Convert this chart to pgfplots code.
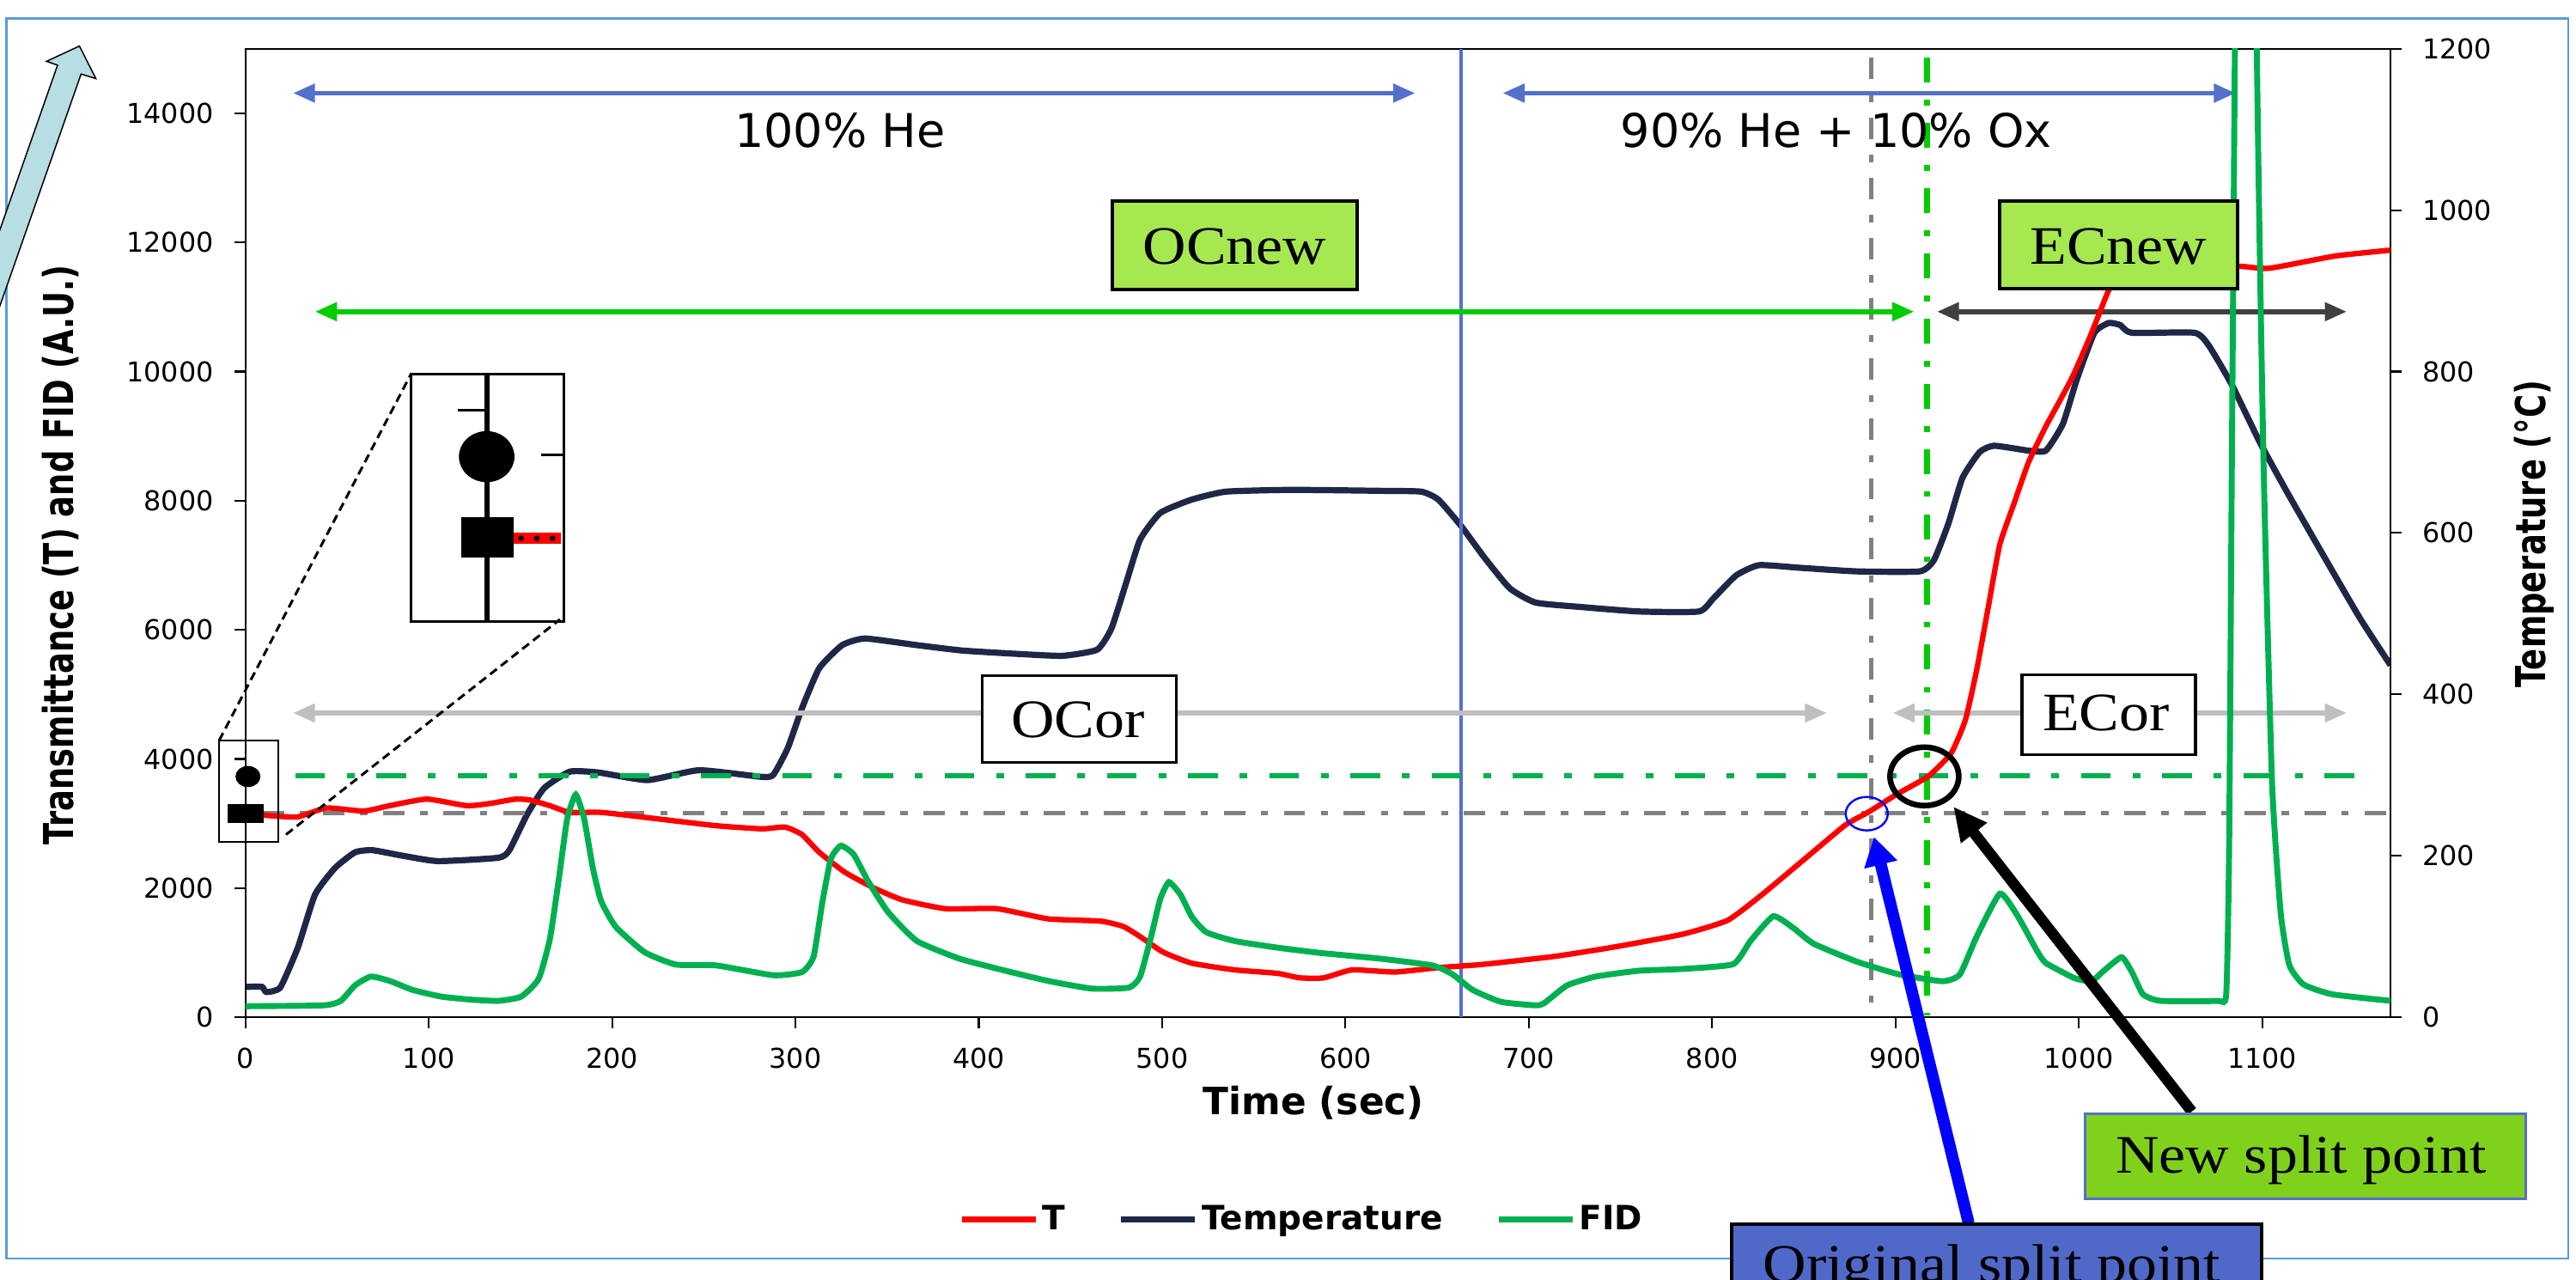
\documentclass[border=0pt]{standalone}
\usepackage{fontspec}
\setmainfont{DejaVu Sans}
\newfontfamily\tnr{Liberation Serif}
\usepackage{pgfplots}
\pgfplotsset{compat=1.18}
\usetikzlibrary{arrows.meta}
\definecolor{navyc}{HTML}{1E2846}
\definecolor{fidg}{HTML}{00B050}
\definecolor{limeg}{HTML}{00CC00}
\definecolor{arrblue}{HTML}{5470CC}
\definecolor{ltgray}{HTML}{BFBFBF}
\definecolor{dkgray}{HTML}{404040}
\definecolor{dgray}{HTML}{808080}
\definecolor{boxg}{HTML}{A6E84F}
\definecolor{boxgg}{HTML}{80D11C}
\definecolor{boxb}{HTML}{5068C8}
\definecolor{brd}{HTML}{5B9BD5}
\definecolor{cyanarr}{HTML}{B7DEE2}
\pgfplotsset{
  myframe/.style={
    scale only axis, width=832.43pt, height=375.8pt,
    xmin=0, xmax=1170,
    tick align=outside, major tick length=4.3pt,
    tick style={black, line width=0.7pt},
    axis line style={black, line width=0.7pt},
    scaled ticks=false,
    /pgf/number format/1000 sep={},
    /pgf/number format/assume math mode=true,
    tick label style={font=\fontsize{10.6}{12}\selectfont},
  }
}
\begin{document}
\begin{tikzpicture}
\useasboundingbox (-95.233pt,-101.633pt) rectangle (904.433pt,394.7pt);

% ---------- right axis : Temperature ----------
\begin{axis}[myframe,
  ymin=0, ymax=1200,
  axis x line=none, axis y line*=right,
  ytick={0,200,...,1200},
  yticklabel style={xshift=4.5pt},
  every axis y label/.style={at={(axis description cs:1.0669,0.499)}, rotate=90, anchor=center},
  ylabel={\scalebox{1}[1.3]{\bfseries\fontsize{12.3}{14}\selectfont Temperature (°C)}},
]
\addplot[navyc, line width=2.4pt, smooth, tension=0.3] coordinates {
(0,37.6) (9,37.6) (11.4,31.2) (19,36.8) (28.6,86.2) (38,152) (48.9,185) (59.8,204.3) (69.2,207) (84.8,200.5) (105,193.4) (138,197.6) (144,207) (153.6,251) (163,284) (177,304.3) (192.6,303.2) (219.3,293.8) (247.4,306) (281.8,297.8) (288,300.5) (295.8,333.4) (303.6,383) (313,432.4) (325.5,461) (338,469.2) (366.3,461) (391.1,454.3) (422.4,450) (445.8,447.8) (464.6,455.4) (472.4,481.8) (480.2,536.8) (488,591.8) (499,624.8) (516.1,641.3) (534.9,651.2) (570.8,653.4) (619.3,652.2) (641.3,651.2) (650.7,641.3) (663.2,608.3) (675.7,569.8) (689.7,531.3) (703.8,513.7) (728.8,508.2) (760.1,502.7) (792.8,502.7) (800.6,518.7) (813.1,547.4) (825.6,560.1) (847.5,556.9) (878.8,552.4) (913.2,552.4) (921,566.5) (928.8,611.2) (936.6,668.5) (946,700.4) (953.8,708.1) (972.6,702) (982,702) (991.3,735) (999.1,791.5) (1008.5,848) (1016.3,860.2) (1022.6,857.6) (1028.8,848) (1063.2,848) (1071,831.9) (1083.5,783.4) (1099.1,710.7) (1114.7,646.2) (1138.2,553.3) (1153.8,492.7) (1170,436.2)
};
\end{axis}

% ---------- main axis ----------
\begin{axis}[myframe,
  ymin=0, ymax=15000,
  xtick={0,100,...,1100}, ytick={0,2000,...,14000},
  xtick pos=left, ytick pos=left,
  xticklabel style={yshift=-4pt},
  yticklabel style={xshift=-4.5pt},
  clip mode=individual,
  every axis x label/.style={at={(axis description cs:0.4979,-0.0884)}, anchor=center},
  xlabel={\bfseries\fontsize{14.6}{16}\selectfont Time (sec)},
  every axis y label/.style={at={(axis description cs:-0.0864,0.4773)}, rotate=90, anchor=center},
  ylabel={\scalebox{1}[1.3]{\bfseries\fontsize{12.3}{14}\selectfont Transmittance (T) and FID (A.U.)}},
  legend columns=3,
  legend style={at={(axis description cs:0.4929,-0.2089)}, anchor=center,
    draw=none, fill=none, inner sep=0pt,
    font=\bfseries\fontsize{13}{15}\selectfont,
    nodes={inner sep=1.5pt},
    /tikz/every even column/.append style={column sep=19pt}},
  legend image code/.code={\draw[#1] (0pt,0pt) -- (28.7pt,0pt);},
]
% reference lines and range arrows
\draw[arrblue, line width=1.3pt] (axis cs:663,0) -- (axis cs:663,15000);
\draw[dgray, line width=1.7pt, dash pattern=on 8.3pt off 6.1pt on 2.8pt off 6.1pt] (axis cs:886.9,14860) -- (axis cs:886.9,108);
\draw[limeg, line width=2.4pt, dash pattern=on 9.7pt off 6.7pt on 2.2pt off 6.7pt] (axis cs:917.3,14860) -- (axis cs:917.3,30);
\draw[fidg, line width=2pt, dash pattern=on 11.4pt off 8.6pt on 2.9pt off 8.6pt] (axis cs:27.3,3741) -- (axis cs:1160.3,3741);
\draw[dgray, line width=1.6pt, dash pattern=on 8.3pt off 6.1pt on 2.8pt off 6.1pt] (axis cs:9.6,3159) -- (axis cs:1170,3159);
\draw[arrblue, line width=1.8pt, {Triangle[length=8.5pt,width=7pt]}-{Triangle[length=8.5pt,width=7pt]}] (axis cs:26,14312) -- (axis cs:638,14312);
\draw[arrblue, line width=1.8pt, {Triangle[length=8.5pt,width=7pt]}-{Triangle[length=8.5pt,width=7pt]}] (axis cs:685.8,14312) -- (axis cs:1085.6,14312);
\draw[limeg, line width=1.8pt, {Triangle[length=8.5pt,width=7pt]}-{Triangle[length=8.5pt,width=7pt]}] (axis cs:38,10927) -- (axis cs:910.2,10927);
\draw[dkgray, line width=1.8pt, {Triangle[length=8.5pt,width=7pt]}-{Triangle[length=8.5pt,width=7pt]}] (axis cs:922.7,10927) -- (axis cs:1146.1,10927);
\draw[ltgray, line width=1.8pt, {Triangle[length=8.5pt,width=7pt]}-{Triangle[length=8.5pt,width=7pt]}] (axis cs:26,4712) -- (axis cs:862.6,4712);
\draw[ltgray, line width=1.8pt, {Triangle[length=8.5pt,width=7pt]}-{Triangle[length=8.5pt,width=7pt]}] (axis cs:898.5,4712) -- (axis cs:1146.1,4712);

\addplot[red, line width=2.1pt, smooth, tension=0.3] coordinates {
(0,3160) (14,3120) (28.6,3103) (44.2,3241) (64.5,3193) (78.6,3276) (98.9,3378) (120.8,3276) (133.3,3310) (147.3,3378) (155.2,3364) (166.1,3276) (177,3172) (194.2,3172) (225.5,3070) (256.8,2966) (281.8,2918) (294.3,2945) (303.6,2829) (313,2554) (327,2245) (342.7,2004) (358.3,1818) (381.8,1681) (409.9,1681) (438,1523) (466.2,1489) (478.7,1407) (488,1249) (500.6,1008) (516.2,837) (539.6,733) (563.1,679) (575,610) (588,609) (603.7,733) (627.1,700) (650.7,768) (674.1,816) (713.2,939) (744.5,1077) (783.5,1283) (808.4,1500) (827.2,1898) (850.7,2456) (872.6,2975) (885.1,3175) (900.7,3453) (917.9,3732) (930.4,4091) (938.2,4610) (944.5,5406) (950.7,6364) (956.9,7320) (964.7,7959) (972.6,8596) (982,9150) (989,9514) (997,9944) (1007,10600) (1016,11240) (1022,11550) (1030,11650) (1060,11640) (1088,11630) (1104,11600) (1140,11790) (1170,11880)
};
\addlegendentry{T}
\addlegendimage{navyc, line width=2.4pt}
\addlegendentry{Temperature}
\addplot[fidg, line width=2.3pt, smooth, tension=0.3] coordinates {
(0,170) (42.6,184) (52,253) (59.8,493) (68.4,630) (78.6,563) (91.1,424) (106.7,320) (122.4,274) (138,253) (150.5,320) (160,596) (166.1,1214) (170.8,2107) (175.5,3069) (180.2,3447) (184.8,3069) (189.5,2313) (194,1800) (202,1400) (217.7,1008) (234.9,815) (256.8,802) (288,650) (303.6,700) (309.9,939) (314.6,1764) (319.3,2451) (324.8,2657) (331.8,2520) (339.6,2107) (350.6,1626) (366.3,1180) (389.6,906) (414.6,720) (438,561) (461.5,444) (481.8,458) (488,630) (494.3,1283) (499,1833) (503.7,2093) (510,1900) (516.2,1557) (524,1318) (539.6,1180) (563.1,1077) (586.5,995) (619.3,906) (647.4,802) (658.4,665) (669.3,424) (684.9,238) (703.7,184) (708.4,218) (720.9,493) (736.5,630) (760,720) (783.5,747) (811.5,822) (820.9,1181) (833.4,1564) (844.4,1380) (855.3,1140) (878.8,862) (902.2,662) (925.7,558) (935.1,662) (944.5,1261) (957,1914) (966.4,1580) (977.3,1024) (982,840) (997.5,608) (1006.9,558) (1013.2,709) (1023.3,930) (1028.8,709) (1035,355) (1044.5,254) (1075.7,254) (1080.4,355) (1082,2627) (1083.5,8682) (1085.5,16500) (1091,40000) (1096.5,16500) (1100.7,8682) (1105.4,3635) (1110.1,1617) (1114.8,810) (1122.6,507) (1138.2,355) (1170,254)
};
\addlegendentry{FID}
% inset symbols (small box and enlarged view)
\addplot[forget plot, only marks, mark=*, mark size=3.9pt, mark options={xscale=1.19, fill=black, draw=black}] coordinates {(1.4,3728)};
\addplot[forget plot, only marks, mark=square*, mark size=3.5pt, mark options={xscale=1.95, fill=black, draw=black}] coordinates {(0,3152)};
\addplot[forget plot, only marks, mark=*, mark size=9.7pt, mark options={xscale=1.09, fill=black, draw=black}] coordinates {(131.6,8682)};
\addplot[forget plot, only marks, mark=square*, mark size=7.6pt, mark options={xscale=1.31, fill=black, draw=black}] coordinates {(131.9,7432)};
\end{axis}

% ---------- annotations in picture pixels ----------
\begin{scope}[x=0.333333pt, y=-0.333333pt, shift={(-95.233pt,394.7pt)}]
\draw[brd, line width=0.8pt] (7.6,21.4) rectangle (2990,1465);
\draw[black, line width=0.5pt, fill=cyanarr] (-64,450) -- (67,75.9) -- (54.2,71.4) -- (92.5,53.6) -- (111.6,91.5) -- (94.4,86.2) -- (-33,450) -- cycle;
\node[anchor=base, inner sep=0pt] at (978,172) {\fontsize{18}{20}\selectfont 100\% He};
\node[anchor=base, inner sep=0pt] at (2137.8,172) {\fontsize{18}{20}\selectfont 90\% He + 10\% Ox};
% zoom inset
\draw[black, line width=0.8pt] (255.1,862) rectangle (324,980.3);
\draw[black, line width=1.1pt] (478.3,435.8) rectangle (656.7,723.5);
\draw[black, line width=1pt, dash pattern=on 3.3pt off 2pt] (255.1,862) -- (478.3,435.8);
\draw[black, line width=1pt, dash pattern=on 3.3pt off 2pt] (333,971.5) -- (652,721);
\draw[black, line width=1.9pt] (567.3,435.8) -- (567.3,723.5);
\draw[black, line width=1pt] (533.3,477.1) -- (565,477.1);
\draw[black, line width=1pt] (630,529.8) -- (655,529.8);
\draw[red, line width=4.3pt] (597.7,626.6) -- (653.3,626.6);
\draw[black, line width=2.2pt, line cap=round, dash pattern=on 0pt off 6.1pt] (606.7,626.6) -- (650,626.6);
% boxes
\draw[black, line width=1.3pt, fill=boxg] (1294.6,234.4) rectangle (1580.4,337);
\node[anchor=base, inner sep=0pt] at (1437.5,307.5) {\scalebox{1.11}[1]{\tnr\fontsize{21}{24}\selectfont OCnew}};
\draw[black, line width=1.3pt, fill=boxg] (2328.4,234.4) rectangle (2604.6,335.7);
\node[anchor=base, inner sep=0pt] at (2466.5,307.5) {\scalebox{1.11}[1]{\tnr\fontsize{21}{24}\selectfont ECnew}};
\draw[black, line width=1.1pt, fill=white] (1143.3,786.5) rectangle (1369.3,887.2);
\node[anchor=base, inner sep=0pt] at (1255,859) {\scalebox{1.11}[1]{\tnr\fontsize{21}{24}\selectfont OCor}};
\draw[black, line width=1.1pt, fill=white] (2354,785.6) rectangle (2556,878.7);
\node[anchor=base, inner sep=0pt] at (2452,851) {\scalebox{1.11}[1]{\tnr\fontsize{21}{24}\selectfont ECor}};
% split point markers
\draw[black, line width=2.2pt] (2240.4,903.8) ellipse [x radius=40, y radius=34];
\draw[blue, line width=0.8pt] (2173.3,947.2) ellipse [x radius=24.5, y radius=19.5];
\draw[black, line width=4.2pt, -{Triangle[length=13pt,width=12pt]}] (2551.7,1293.9) -- (2274.2,939);
\draw[blue, line width=4.6pt, -{Triangle[length=11pt,width=12.5pt]}] (2292,1424) -- (2181.8,974.3);
\draw[arrblue, line width=1pt, fill=boxgg] (2427.3,1296.4) rectangle (2940.7,1396);
\node[anchor=base, inner sep=0pt] at (2679,1366) {\scalebox{1.11}[1]{\tnr\fontsize{21}{24}\selectfont New split point}};
\draw[black, line width=1.3pt, fill=boxb] (2016,1424.7) rectangle (2632.7,1540);
\node[anchor=base, inner sep=0pt] at (2318.9,1492.5) {\scalebox{1.11}[1]{\tnr\fontsize{21}{24}\selectfont Original split point}};
\end{scope}
\end{tikzpicture}
\end{document}
